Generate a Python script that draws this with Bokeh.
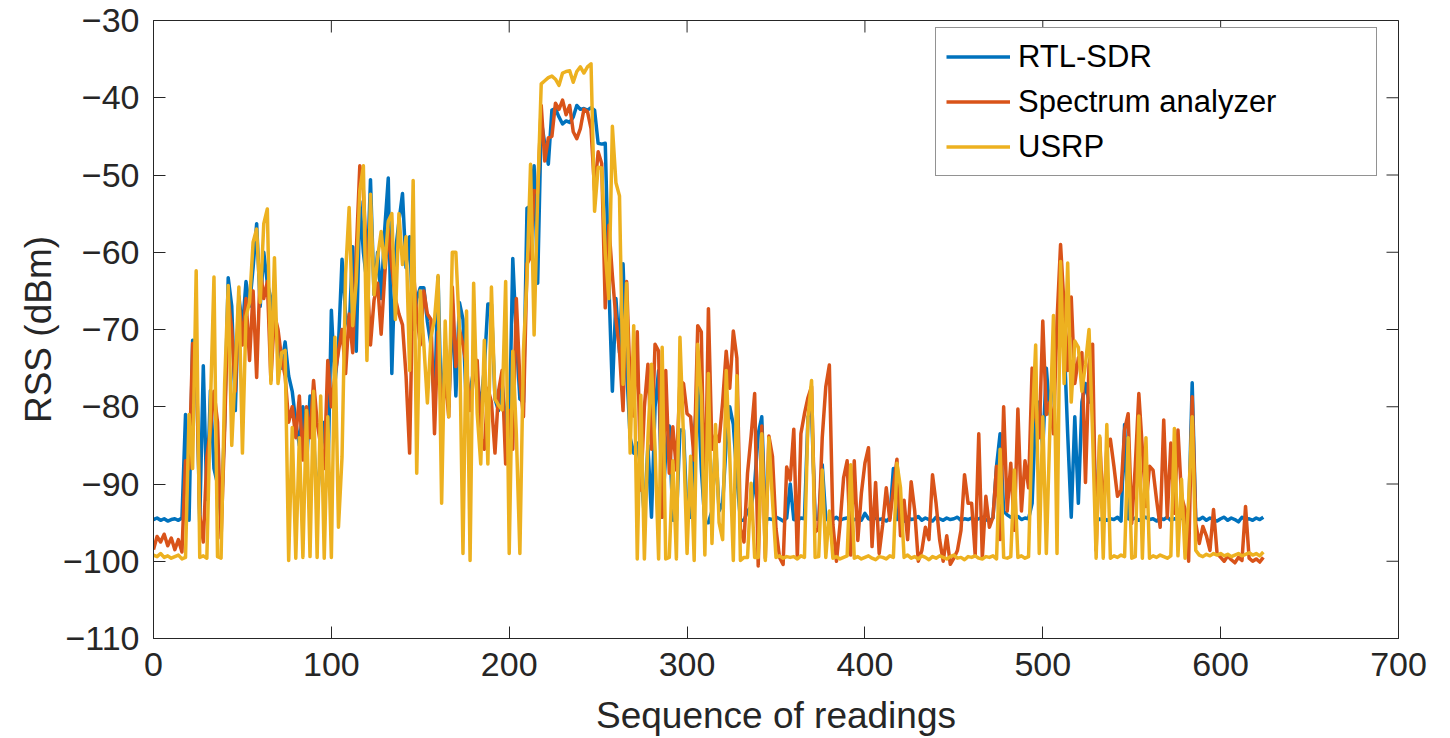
import math
from bokeh.plotting import figure
from bokeh.models import Range1d, FixedTicker, Legend, LegendItem
from bokeh.embed import file_html
from bokeh.resources import INLINE

# Sequence index (every second reading)
seq = list(range(0, 625, 2))

rtl_sdr = [
    -94.6, -94.4, -94.7, -94.5, -94.8, -94.6, -94.5, -94.7, -94.4, -81.0,
    -94.7, -71.4, -73.0, -95.0, -74.7, -92.0, -77.9, -88.0, -90.0, -94.7,
    -82.0, -63.3, -67.0, -80.5, -65.7, -70.0, -63.8, -67.0, -62.0, -56.3,
    -67.0, -60.0, -64.0, -66.0, -68.8, -72.0, -75.0, -71.6, -76.0, -78.0,
    -82.0, -85.0, -80.0, -88.0, -78.6, -84.0, -92.5, -86.0, -82.0, -90.0,
    -67.5, -77.0, -72.0, -60.9, -68.0, -70.0, -59.3, -72.8, -53.4, -60.0,
    -64.0, -50.6, -65.5, -60.0, -66.0, -57.0, -50.4, -75.7, -60.0, -56.0,
    -52.4, -62.0, -58.0, -70.0, -66.0, -64.6, -64.6, -69.0, -72.0, -80.0,
    -63.2, -82.3, -72.0, -80.0, -66.5, -78.6, -66.5, -68.7, -80.5, -78.0,
    -75.3, -77.0, -80.0, -75.0, -66.7, -66.7, -79.0, -80.5, -77.0, -82.0,
    -84.0, -60.8, -71.0, -79.0, -79.4, -54.3, -54.0, -48.8, -64.0, -42.9,
    -46.0, -48.6, -41.6, -41.4, -42.5, -43.4, -43.0, -43.2, -42.5, -41.0,
    -41.5, -41.4, -41.6, -41.3, -41.6, -45.9, -46.0, -45.9, -64.0, -78.0,
    -66.0, -73.0, -61.5, -75.0, -84.0, -86.0, -84.7, -88.0, -94.3, -85.0,
    -94.3, -80.0, -75.3, -94.3, -86.0, -82.5, -94.7, -94.7, -83.0, -83.0,
    -94.3, -94.3, -84.0, -77.0, -88.0, -95.0, -95.0, -93.5, -84.7, -93.5,
    -92.5, -84.7, -80.0, -82.3, -89.0, -94.7, -94.7, -93.5, -93.0, -90.0,
    -83.5, -81.3, -94.7, -94.5, -94.6, -94.3, -94.5, -94.8, -94.4, -90.0,
    -94.6, -94.7, -94.4, -94.5, -81.3, -80.5, -94.5, -94.6, -87.5, -94.5,
    -94.8, -94.6, -94.3, -94.7, -94.5, -94.4, -94.8, -94.6, -94.5, -94.7,
    -93.8, -94.5, -94.7, -94.4, -94.6, -94.5, -94.8, -94.4, -88.0, -94.6,
    -94.5, -94.8, -94.3, -94.6, -94.5, -94.2, -94.7, -94.4, -94.6, -94.8,
    -94.3, -94.5, -94.7, -94.4, -94.6, -94.5, -94.3, -94.7, -94.5, -94.6,
    -94.4, -94.7, -94.5, -94.3, -94.6, -94.8, -94.4, -87.7, -83.5, -93.5,
    -94.0, -94.3, -94.5, -94.2, -94.6, -94.4, -94.5, -92.5, -80.5, -79.4,
    -85.5, -75.0, -81.0, -74.5, -71.0, -64.2, -71.5, -83.5, -94.3, -81.3,
    -92.5, -79.4, -77.0, -79.4, -79.4, -94.3, -94.6, -94.4, -94.7, -94.5,
    -94.6, -94.3, -94.8, -82.3, -94.5, -94.6, -94.4, -94.7, -94.5, -94.3,
    -94.6, -94.5, -94.8, -94.4, -94.6, -94.3, -94.7, -94.5, -94.6, -94.4,
    -94.7, -94.5, -76.9, -94.5, -94.6, -94.3, -94.7, -94.4, -94.6, -94.8,
    -94.5, -94.3, -94.7, -94.4, -94.6, -94.9, -94.3, -94.6, -94.5, -94.7,
    -94.4, -94.6, -94.3,
]

spectrum_analyzer = [
    -98.5, -96.8, -97.5, -96.5, -98.0, -97.0, -98.5, -97.2, -98.8, -87.0,
    -88.0, -71.8, -73.0, -94.0, -97.5, -86.5, -83.0, -78.0, -82.0, -97.0,
    -83.0, -66.0, -70.0, -78.0, -66.0, -72.0, -66.0, -74.0, -65.0, -76.2,
    -62.0, -66.0, -63.8, -76.6, -68.0, -70.0, -73.7, -76.0, -82.0, -80.0,
    -84.0, -78.6, -86.9, -80.0, -84.0, -76.6, -82.0, -85.0, -88.0, -74.0,
    -80.0, -76.0, -72.8, -70.0, -75.7, -68.0, -73.0, -60.0, -48.8, -52.0,
    -62.0, -72.0, -66.2, -64.0, -70.6, -63.0, -57.0, -62.0, -66.0, -68.0,
    -69.4, -76.0, -86.0, -62.0, -68.0, -72.0, -65.0, -68.0, -68.7, -83.5,
    -70.3, -82.0, -76.0, -81.3, -64.5, -74.8, -70.0, -72.0, -74.8, -80.5,
    -76.0, -74.0, -84.0, -85.5, -77.6, -79.4, -86.0, -78.0, -75.3, -87.4,
    -80.5, -85.5, -66.0, -76.6, -81.3, -61.5, -60.6, -52.0, -52.3, -41.0,
    -48.2, -45.2, -45.0, -40.7, -41.5, -40.3, -42.2, -41.0, -44.4, -45.3,
    -44.0, -41.5, -41.8, -44.0, -52.0, -47.0, -48.5, -67.2, -56.5, -63.0,
    -68.6, -72.8, -80.5, -63.8, -77.0, -81.2, -70.3, -90.8, -80.0, -74.5,
    -85.5, -71.9, -72.8, -94.3, -75.3, -88.6, -82.6, -88.2, -76.6, -77.0,
    -80.9, -81.3, -86.9, -69.5, -70.3, -95.1, -67.3, -85.5, -83.6, -84.5,
    -79.4, -72.8, -77.6, -70.2, -73.7, -95.8, -97.5, -88.6, -83.8, -78.3,
    -100.6, -82.5, -99.6, -83.8, -86.4, -95.8, -99.5, -100.4, -87.8, -89.5,
    -82.9, -99.6, -83.5, -80.9, -78.8, -77.4, -96.2, -95.8, -84.0, -77.4,
    -74.6, -95.2, -100.0, -95.2, -89.2, -87.0, -99.2, -87.0, -97.3, -91.2,
    -87.3, -85.3, -98.1, -89.8, -99.0, -95.2, -90.5, -94.7, -90.5, -86.8,
    -96.7, -92.1, -97.2, -89.7, -93.5, -100.0, -98.6, -95.6, -97.2, -88.8,
    -92.5, -97.2, -100.0, -96.7, -100.4, -99.6, -98.6, -96.0, -88.8, -92.5,
    -92.5, -99.2, -83.5, -99.6, -91.6, -95.6, -94.3, -87.7, -97.2, -80.0,
    -93.5, -87.3, -96.0, -80.3, -93.5, -87.0, -90.5, -75.0, -81.3, -84.0,
    -68.9, -81.0, -79.4, -83.5, -68.9, -59.0, -67.1, -75.3, -65.8, -77.0,
    -73.7, -73.0, -89.8, -74.5, -71.9, -98.6, -84.0, -94.3, -85.5, -84.2,
    -87.7, -91.6, -90.8, -83.0, -80.9, -95.1, -87.7, -78.3, -85.5, -92.9,
    -87.7, -88.2, -92.1, -95.6, -81.7, -94.3, -84.7, -93.8, -83.0, -91.6,
    -93.3, -100.0, -78.7, -95.1, -97.7, -95.5, -96.7, -98.6, -93.3, -99.0,
    -99.5, -100.0, -99.3, -99.8, -100.2, -99.5, -99.9, -92.9, -99.6, -100.0,
    -99.7, -100.1, -99.5,
]

usrp = [
    -99.2, -99.4, -99.0, -99.5, -99.3, -99.6, -99.4, -99.2, -99.7, -99.5,
    -81.0, -88.0, -62.4, -99.5, -99.3, -99.6, -80.0, -63.2, -99.4, -99.6,
    -77.0, -64.3, -85.0, -75.0, -64.5, -86.0, -68.3, -66.5, -58.7, -57.0,
    -66.5, -56.3, -54.4, -77.0, -60.7, -77.0, -73.0, -72.7, -99.9, -82.7,
    -99.6, -84.0, -99.5, -80.5, -99.4, -78.0, -99.5, -78.6, -99.6, -81.3,
    -99.5, -71.0, -95.6, -86.5, -62.8, -54.2, -69.5, -63.8, -52.0, -48.8,
    -74.0, -52.5, -65.5, -60.7, -57.3, -62.0, -56.0, -55.0, -68.7, -55.0,
    -61.6, -58.0, -75.3, -50.7, -88.6, -65.0, -72.0, -79.5, -71.0, -68.7,
    -63.0, -92.5, -68.9, -81.3, -60.0, -60.0, -70.0, -99.0, -67.6, -99.9,
    -64.0, -80.9, -87.4, -71.4, -87.4, -64.5, -79.0, -79.8, -80.4, -63.8,
    -99.0, -72.8, -83.5, -99.0, -72.8, -63.3, -48.6, -70.7, -52.6, -38.2,
    -37.8, -37.4, -37.2, -37.6, -38.4, -36.8, -36.6, -36.5, -38.0, -36.6,
    -36.0, -36.8, -36.0, -35.6, -54.7, -49.0, -49.1, -60.0, -66.0, -43.7,
    -51.0, -52.7, -77.1, -64.0, -86.0, -69.5, -99.7, -78.5, -99.7, -84.0,
    -74.5, -85.5, -99.7, -72.3, -99.7, -99.5, -87.0, -99.7, -71.0, -84.0,
    -99.0, -86.4, -99.9, -71.9, -78.6, -99.2, -75.7, -97.7, -82.3, -95.0,
    -97.2, -75.3, -86.4, -99.9, -76.0, -99.9, -99.5, -99.5, -89.9, -99.5,
    -99.5, -83.5, -99.9, -84.0, -92.1, -99.5, -99.3, -99.6, -99.4, -99.5,
    -99.4, -99.7, -99.3, -99.5, -81.3, -76.6, -99.5, -99.4, -88.2, -99.5,
    -93.5, -99.6, -99.4, -99.7, -99.5, -99.3, -87.5, -99.6, -99.4, -99.7,
    -99.5, -99.3, -99.6, -99.8, -99.4, -99.5, -99.7, -99.3, -99.5, -87.3,
    -90.5, -99.5, -99.2, -99.6, -99.4, -99.7, -99.3, -99.5, -99.8, -99.4,
    -99.6, -99.3, -99.5, -99.7, -99.4, -99.2, -99.6, -99.5, -99.8, -99.4,
    -99.5, -99.3, -99.6, -99.7, -99.4, -99.5, -99.3, -99.7, -85.5, -99.5,
    -99.6, -99.4, -88.2, -99.5, -99.3, -99.6, -99.4, -82.8, -72.0, -99.0,
    -81.3, -99.0, -82.8, -68.2, -99.0, -61.2, -77.0, -61.4, -79.4, -71.5,
    -72.3, -78.0, -74.5, -70.0, -83.5, -99.6, -83.8, -99.6, -82.3, -99.6,
    -99.3, -99.5, -99.2, -99.4, -84.0, -99.6, -99.4, -81.2, -99.6, -84.0,
    -99.6, -99.3, -99.5, -99.2, -99.4, -99.6, -99.3, -82.8, -99.3, -89.4,
    -99.6, -92.1, -81.3, -98.6, -99.2, -99.4, -99.1, -99.3, -99.0, -99.2,
    -99.0, -99.3, -99.1, -99.4, -99.2, -99.0, -99.3, -99.1, -98.9, -99.2,
    -99.0, -99.3, -98.8,
]

series_names = ["RTL-SDR", "Spectrum analyzer", "USRP"]
series_colors = ["#0072BD", "#D95319", "#EDB120"]
x_ticks = [0, 100, 200, 300, 400, 500, 600, 700]
y_ticks = [-110, -100, -90, -80, -70, -60, -50, -40, -30]
x_lim = (0, 700)
y_lim = (-110, -30)

FONT = "Liberation Sans"
INK = "#262626"

p = figure(width=1450, height=738, output_backend="svg", toolbar_location=None,
           x_range=Range1d(*x_lim), y_range=Range1d(*y_lim),
           min_border_left=153, min_border_right=52, min_border_top=20,
           min_border_bottom=100, background_fill_color="white",
           border_fill_color="white")
p.grid.visible = False
p.outline_line_color = INK
p.outline_line_width = 1

renderers = []
for ys, c in zip([rtl_sdr, spectrum_analyzer, usrp], series_colors):
    r = p.line(seq, ys, line_color=c, line_width=3.5, line_join="round")
    renderers.append(r)

# mirrored inward ticks on the right and top edges (box on), clipped to the frame
p.scatter([x_lim[1]] * len(y_ticks), y_ticks, marker="dash", size=24,
          line_color=INK, line_width=1)
p.scatter(x_ticks, [y_lim[1]] * len(x_ticks), marker="dash", size=24,
          angle=math.pi / 2, line_color=INK, line_width=1)

for ax in [p.xaxis[0], p.yaxis[0]]:
    ax.major_tick_in = 12
    ax.major_tick_out = 0
    ax.minor_tick_line_color = None
    ax.axis_line_color = INK
    ax.major_tick_line_color = INK
    ax.major_label_text_font = FONT
    ax.major_label_text_font_size = "34px"
    ax.major_label_text_color = INK
    ax.axis_label_text_font = FONT
    ax.axis_label_text_font_size = "37px"
    ax.axis_label_text_font_style = "normal"
    ax.axis_label_text_color = INK

p.xaxis[0].ticker = FixedTicker(ticks=x_ticks)
p.yaxis[0].ticker = FixedTicker(ticks=y_ticks)
p.xaxis[0].axis_label = "Sequence of readings"
p.yaxis[0].axis_label = "RSS (dBm)"
p.xaxis[0].major_label_standoff = 14
p.yaxis[0].major_label_standoff = 14
p.xaxis[0].axis_label_standoff = 16
p.yaxis[0].axis_label_standoff = 1

legend = Legend(items=[LegendItem(label=n, renderers=[r]) for n, r in zip(series_names, renderers)],
                location=(782, 462))
legend.label_text_font = FONT
legend.label_text_font_size = "31px"
legend.label_text_color = "black"
legend.glyph_width = 64
legend.glyph_height = 37
legend.label_height = 37
legend.label_width = 348
legend.label_standoff = 8
legend.spacing = 8
legend.padding = 10
legend.margin = 0
legend.border_line_color = INK
legend.border_line_width = 1
legend.background_fill_color = "white"
legend.background_fill_alpha = 1.0
p.add_layout(legend)

open("out.html", "w").write(file_html(p, INLINE))
